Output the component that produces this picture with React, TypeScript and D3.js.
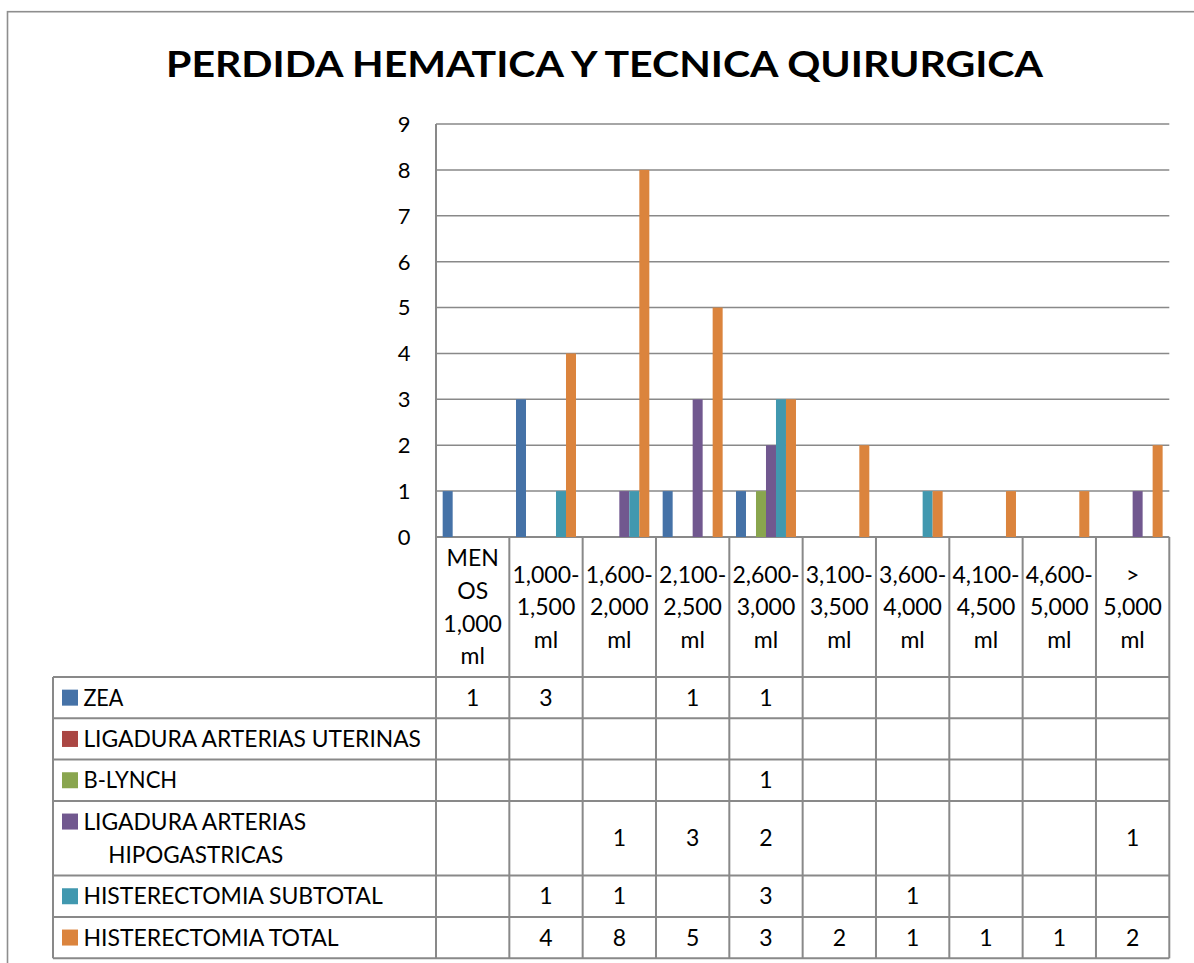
import React from "react";
import * as d3 from "d3";

// ---------- DATA ----------
const categoryLabels: string[][] = [
  ["MEN", "OS", "1,000", "ml"],
  ["1,000-", "1,500", "ml"],
  ["1,600-", "2,000", "ml"],
  ["2,100-", "2,500", "ml"],
  ["2,600-", "3,000", "ml"],
  ["3,100-", "3,500", "ml"],
  ["3,600-", "4,000", "ml"],
  ["4,100-", "4,500", "ml"],
  ["4,600-", "5,000", "ml"],
  [">", "5,000", "ml"],
];

const seriesLabelLines: string[][] = [
  ["ZEA"],
  ["LIGADURA ARTERIAS UTERINAS"],
  ["B-LYNCH"],
  ["LIGADURA ARTERIAS", "HIPOGASTRICAS"],
  ["HISTERECTOMIA SUBTOTAL"],
  ["HISTERECTOMIA TOTAL"],
];

const zea: (number | null)[] = [1, 3, null, 1, 1, null, null, null, null, null];
const ligaduraUterinas: (number | null)[] = [null, null, null, null, null, null, null, null, null, null];
const bLynch: (number | null)[] = [null, null, null, null, 1, null, null, null, null, null];
const ligaduraHipogastricas: (number | null)[] = [null, null, 1, 3, 2, null, null, null, null, 1];
const histerectomiaSubtotal: (number | null)[] = [null, 1, 1, null, 3, null, 1, null, null, null];
const histerectomiaTotal: (number | null)[] = [null, 4, 8, 5, 3, 2, 1, 1, 1, 2];

const yTicks = [0, 1, 2, 3, 4, 5, 6, 7, 8, 9];
const title = "PERDIDA HEMATICA Y TECNICA QUIRURGICA";

// ---------- STYLE ----------
const seriesValues = [zea, ligaduraUterinas, bLynch, ligaduraHipogastricas, histerectomiaSubtotal, histerectomiaTotal];
const colors = ["#4572A7", "#AA4643", "#89A54E", "#71588F", "#4198AF", "#DB843D"];
// measured widths of legend label lines
const labelWidths: number[][] = [[40], [337.6], [93.8], [222.7, 174.9], [299.3], [255.3]];

const FONT = "Lato, 'Open Sans', sans-serif";
const W = 1194;
const H = 963;
const plotLeft = 436;
const plotRight = 1169.3;
const plotTop = 124;
const plotBottom = 537;
const headerBottom = 677;
const rowH = 41.3;
const lineGap = 33.4;
const tableLeft = 53;
const fs = 23;
const capHalf = 0.358;
const gridColor = "#898989";

export default function App() {
  const catIdx = categoryLabels.map((_, i) => String(i));
  const x = d3.scaleBand<string>().domain(catIdx).range([plotLeft, plotRight]).padding(0);
  const sIdx = seriesValues.map((_, i) => String(i));
  const xs = d3
    .scaleBand<string>()
    .domain(sIdx)
    .range([0, x.bandwidth()])
    .paddingInner(0)
    .paddingOuter(0.667);
  const y = d3.scaleLinear().domain([0, 9]).range([plotBottom, plotTop]);

  // table rows
  const rowTops: number[] = [];
  const rowHeights: number[] = [];
  let cur = headerBottom;
  seriesLabelLines.forEach((lines) => {
    const h = rowH + (lines.length - 1) * lineGap;
    rowTops.push(cur);
    rowHeights.push(h);
    cur += h;
  });
  const tableBottom = cur;

  const headerCenter = (plotBottom + headerBottom) / 2;
  const headerLine = 32.6;

  return (
    <div style={{ position: "absolute", left: 0, top: 0 }}>
      <svg width={W} height={H} style={{ display: "block", background: "#fff" }} fontFamily={FONT}>
        {/* outer chart border */}
        <rect x={7.5} y={11.7} width={W + 20} height={H + 20} fill="#fff" stroke="#8e8e8e" strokeWidth={1.6} />

        {/* title */}
        <text
          x={604.5}
          y={76.7}
          textAnchor="middle"
          fontWeight="bold"
          fontSize={36}
          textLength={877}
          lengthAdjust="spacingAndGlyphs"
          fill="#000"
        >
          {title}
        </text>

        {/* gridlines */}
        {yTicks.map((t) => (
          <line
            key={"g" + t}
            x1={plotLeft}
            x2={plotRight}
            y1={y(t)}
            y2={y(t)}
            stroke={gridColor}
            strokeWidth={t === 0 ? 2 : 1.5}
          />
        ))}

        {/* y tick labels */}
        {yTicks.map((t) => (
          <text key={"yl" + t} x={410.5} y={y(t) + 22 * capHalf} textAnchor="end" fontSize={22} fill="#000">
            {t}
          </text>
        ))}

        {/* bars */}
        {seriesValues.map((vals, si) =>
          vals.map((v, ci) =>
            v == null ? null : (
              <rect
                key={`b${si}-${ci}`}
                x={(x(String(ci)) as number) + (xs(String(si)) as number)}
                y={y(v)}
                width={xs.bandwidth()}
                height={y(0) - y(v)}
                fill={colors[si]}
              />
            )
          )
        )}

        {/* vertical axis line */}
        <line x1={plotLeft} x2={plotLeft} y1={plotTop} y2={tableBottom} stroke={gridColor} strokeWidth={2} />

        {/* category column lines (header + table) */}
        {catIdx.map((c) => {
          const xr = (x(c) as number) + x.bandwidth();
          return (
            <line key={"cl" + c} x1={xr} x2={xr} y1={plotBottom} y2={tableBottom} stroke={gridColor} strokeWidth={2} />
          );
        })}

        {/* category header labels */}
        {categoryLabels.map((lines, ci) => {
          const cx = (x(String(ci)) as number) + x.bandwidth() / 2;
          const n = lines.length;
          return lines.map((ln, li) => (
            <text
              key={`cat${ci}-${li}`}
              x={cx}
              y={headerCenter + (li - (n - 1) / 2) * headerLine + fs * capHalf}
              textAnchor="middle"
              fontSize={fs}
              fill="#000"
            >
              {ln}
            </text>
          ));
        })}

        {/* table horizontal lines */}
        {[headerBottom, ...rowTops.slice(1), tableBottom].map((yy, i) => (
          <line key={"hl" + i} x1={tableLeft} x2={plotRight} y1={yy} y2={yy} stroke={gridColor} strokeWidth={2} />
        ))}
        <line x1={tableLeft} x2={tableLeft} y1={headerBottom} y2={tableBottom} stroke={gridColor} strokeWidth={2} />

        {/* legend keys + labels */}
        {seriesLabelLines.map((lines, si) => {
          const top = rowTops[si];
          const firstCenter = lines.length === 1 ? top + rowHeights[si] / 2 : top + rowH / 2;
          return (
            <g key={"lg" + si}>
              <rect x={62} y={firstCenter - 8} width={16} height={16} fill={colors[si]} />
              {lines.map((ln, li) => (
                <text
                  key={li}
                  x={li === 0 ? 83.4 : 108.3}
                  y={firstCenter + li * lineGap + fs * capHalf}
                  fontSize={fs}
                  textLength={labelWidths[si][li]}
                  lengthAdjust="spacingAndGlyphs"
                  fill="#000"
                >
                  {ln}
                </text>
              ))}
            </g>
          );
        })}

        {/* table values */}
        {seriesValues.map((vals, si) =>
          vals.map((v, ci) =>
            v == null ? null : (
              <text
                key={`v${si}-${ci}`}
                x={(x(String(ci)) as number) + x.bandwidth() / 2}
                y={rowTops[si] + rowHeights[si] / 2 + fs * capHalf}
                textAnchor="middle"
                fontSize={fs}
                fill="#000"
              >
                {v}
              </text>
            )
          )
        )}
      </svg>
    </div>
  );
}
